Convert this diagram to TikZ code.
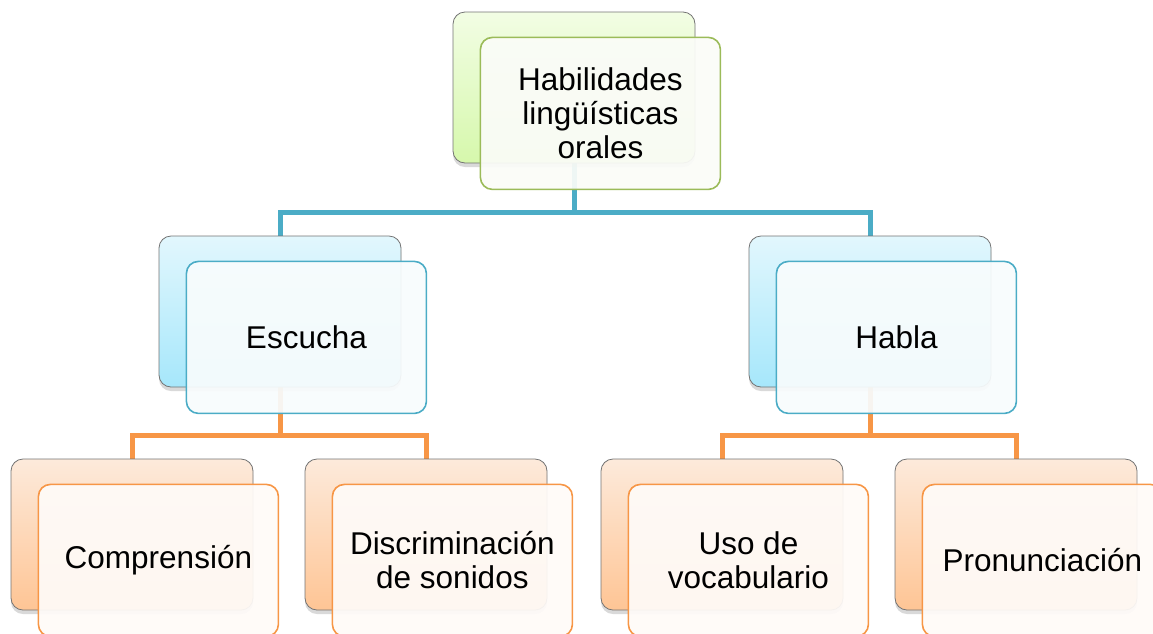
\documentclass[tikz,border=0pt]{standalone}
\usepackage{fontspec}
\setmainfont{Liberation Sans}
\usetikzlibrary{shadows,backgrounds}
\definecolor{linkblue}{HTML}{4BACC6}
\definecolor{linkorange}{HTML}{F79646}
\definecolor{edgegreen}{HTML}{9BBB59}
\definecolor{greentop}{HTML}{F2FDE4}
\definecolor{greenbot}{HTML}{D6F8AC}
\definecolor{bluetop}{HTML}{E2F7FD}
\definecolor{bluebot}{HTML}{A6E7FB}
\definecolor{orangetop}{HTML}{FDEADB}
\definecolor{orangebot}{HTML}{FEC595}
\tikzset{
  back/.style={draw=black!55, line width=0.8pt, rounded corners=12pt,
    minimum width=242pt, minimum height=151pt,
    drop shadow={shadow xshift=0pt, shadow yshift=-4pt, opacity=0.3}},
  backgreen/.style={back, top color=greentop, bottom color=greenbot},
  backblue/.style={back, top color=bluetop, bottom color=bluebot},
  backorange/.style={back, top color=orangetop, bottom color=orangebot},
  front/.style={rounded corners=12pt, minimum width=240pt, minimum height=152pt,
    line width=1.6pt, fill opacity=0.93, text opacity=1, align=center,
    font=\fontsize{31.5}{34}\selectfont, anchor=north west},
  frontgreen/.style={front, draw=edgegreen, fill=edgegreen!4},
  frontblue/.style={front, draw=linkblue, fill=linkblue!4},
  frontorange/.style={front, draw=linkorange, fill=linkorange!4},
  bluelink/.style={draw=linkblue, line width=5pt},
  orangelink/.style={draw=linkorange, line width=5pt},
}
\begin{document}
\begin{tikzpicture}[x=1pt,y=-1pt]
  \useasboundingbox (0,0) rectangle (1153,633);
  % level 0
  \node[backgreen] (hab-b) at (574,87.5) {};
  \node[frontgreen] (hab) at ([shift={(27,25)}]hab-b.north west) {Habilidades\\ lingüísticas\\ orales};
  % level 1
  \node[backblue] (esc-b) at (280,311.5) {};
  \node[frontblue] (esc) at ([shift={(27,25)}]esc-b.north west) {Escucha};
  \node[backblue] (hbl-b) at (870,311.5) {};
  \node[frontblue] (hbl) at ([shift={(27,25)}]hbl-b.north west) {Habla};
  % level 2
  \node[backorange] (comp-b) at (132,534.5) {};
  \node[frontorange] (comp) at ([shift={(27,25)}]comp-b.north west) {Comprensión};
  \node[backorange] (disc-b) at (426,534.5) {};
  \node[frontorange] (disc) at ([shift={(27,25)}]disc-b.north west) {Discriminación\\ de sonidos};
  \node[backorange] (voc-b) at (722,534.5) {};
  \node[frontorange] (voc) at ([shift={(27,25)}]voc-b.north west) {Uso de\\ vocabulario};
  \node[backorange] (pron-b) at (1016,534.5) {};
  \node[frontorange] (pron) at ([shift={(27,25)}]pron-b.north west) {Pronunciación};
  % connectors
  \begin{scope}[on background layer]
    \draw[bluelink] (hab-b.south) -- ++(0,49) coordinate (hab-j) -| (esc-b.north);
    \draw[bluelink] (hab-j) -| (hbl-b.north);
    \draw[orangelink] (esc-b.south) -- ++(0,48) coordinate (esc-j) -| (comp-b.north);
    \draw[orangelink] (esc-j) -| (disc-b.north);
    \draw[orangelink] (hbl-b.south) -- ++(0,48) coordinate (hbl-j) -| (voc-b.north);
    \draw[orangelink] (hbl-j) -| (pron-b.north);
  \end{scope}
\end{tikzpicture}
\end{document}
